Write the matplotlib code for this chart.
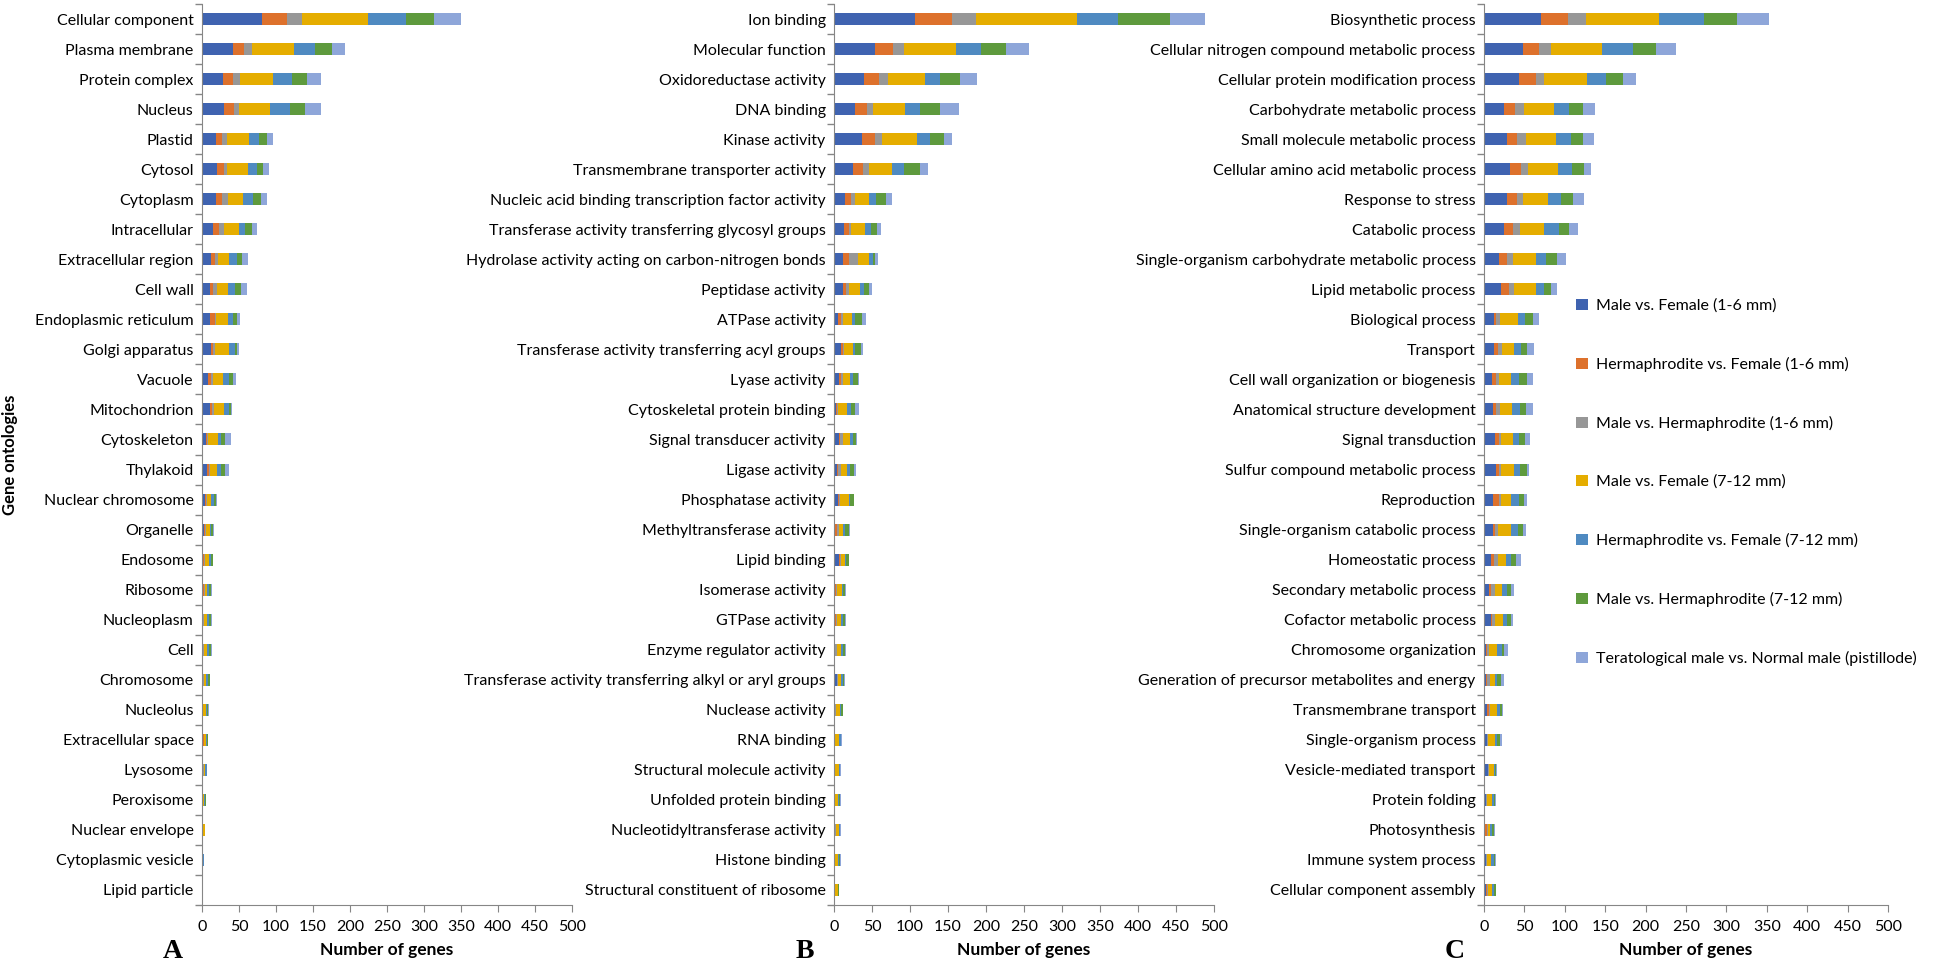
import matplotlib.pyplot as plt
import numpy as np

plt.rcParams['font.family'] = ['Lato', 'DejaVu Sans']

series = ["Male vs. Female (1-6 mm)", "Hermaphrodite vs. Female (1-6 mm)",
          "Male vs. Hermaphrodite (1-6 mm)", "Male vs. Female (7-12 mm)",
          "Hermaphrodite vs. Female (7-12 mm)", "Male vs. Hermaphrodite (7-12 mm)",
          "Teratological male vs. Normal male (pistillode)"]
colors = ["#3F63B0", "#DD712C", "#979797", "#E5AD00", "#4F8AC1", "#5E9A3D", "#8EA6D9"]

# panel A - cellular component
cats_a = ["Cellular component", "Plasma membrane", "Protein complex", "Nucleus", "Plastid",
          "Cytosol", "Cytoplasm", "Intracellular", "Extracellular region", "Cell wall",
          "Endoplasmic reticulum", "Golgi apparatus", "Vacuole", "Mitochondrion", "Cytoskeleton",
          "Thylakoid", "Nuclear chromosome", "Organelle", "Endosome", "Ribosome",
          "Nucleoplasm", "Cell", "Chromosome", "Nucleolus", "Extracellular space",
          "Lysosome", "Peroxisome", "Nuclear envelope", "Cytoplasmic vesicle", "Lipid particle"]
a_mf16 = [80.6, 41.4, 28.8, 29.7, 19.4, 20.3, 18.9, 14.9, 11.7, 10.8, 10.8, 11.7, 8.1, 10.8, 5.4,
          6.3, 3.6, 2.7, 1.8, 1.8, 0.9, 0.9, 0.9, 0.5, 1.8, 0.5, 0.5, 0.3, 0.5, 0.0]
a_hf16 = [33.8, 15.3, 13.1, 13.5, 7.7, 9.0, 8.1, 8.1, 5.9, 4.5, 6.3, 3.6, 4.5, 2.7, 1.8,
          2.7, 1.4, 1.4, 1.4, 0.9, 0.9, 0.9, 0.5, 0.5, 0.5, 1.4, 0.5, 0.2, 0.3, 0.0]
a_mh16 = [21.2, 11.3, 9.5, 7.2, 7.2, 4.0, 8.1, 6.3, 4.0, 5.4, 2.3, 1.8, 2.7, 2.3, 0.5,
          1.8, 1.4, 1.4, 0.9, 0.9, 0.9, 0.9, 0.9, 0.5, 0.3, 0.5, 0.5, 0.2, 0.3, 0.0]
a_mf712 = [89.2, 56.8, 44.6, 41.4, 29.7, 28.4, 20.7, 20.7, 15.3, 14.4, 15.8, 18.9, 13.5, 14.0, 13.5,
           9.0, 5.9, 5.4, 5.9, 2.7, 4.5, 4.5, 3.6, 4.0, 3.2, 2.3, 1.8, 3.0, 0.5, 1.2]
a_hf712 = [50.9, 27.5, 25.7, 27.0, 13.5, 12.2, 13.5, 8.6, 9.9, 9.0, 7.2, 8.1, 7.2, 7.2, 4.0,
           5.4, 4.0, 1.8, 2.3, 2.7, 2.7, 2.3, 2.3, 1.8, 1.2, 1.4, 1.2, 0.4, 0.5, 0.0]
a_mh712 = [37.4, 23.0, 20.7, 20.3, 10.4, 8.1, 10.8, 9.0, 7.7, 8.1, 4.5, 2.7, 6.3, 2.7, 5.4,
           6.3, 2.7, 1.8, 2.3, 2.7, 1.8, 2.3, 2.3, 0.9, 0.5, 0.9, 1.2, 0.2, 0.4, 0.0]
a_tm = [36.9, 18.5, 18.0, 21.2, 8.6, 9.0, 8.1, 7.2, 8.1, 8.6, 5.0, 3.6, 3.6, 0.9, 8.6,
        4.5, 1.4, 1.4, 0.9, 1.8, 1.8, 1.8, 0.8, 1.8, 0.5, 0.2, 0.2, 0.2, 0.2, 0.2]

# panel B - molecular function
cats_b = ["Ion binding", "Molecular function", "Oxidoreductase activity", "DNA binding",
          "Kinase activity", "Transmembrane transporter activity",
          "Nucleic acid binding transcription factor activity",
          "Transferase activity transferring glycosyl groups",
          "Hydrolase activity acting on carbon-nitrogen bonds", "Peptidase activity",
          "ATPase activity", "Transferase activity transferring acyl groups", "Lyase activity",
          "Cytoskeletal protein binding", "Signal transducer activity", "Ligase activity",
          "Phosphatase activity", "Methyltransferase activity", "Lipid binding",
          "Isomerase activity", "GTPase activity", "Enzyme regulator activity",
          "Transferase activity transferring alkyl or aryl groups", "Nuclease activity",
          "RNA binding", "Structural molecule activity", "Unfolded protein binding",
          "Nucleotidyltransferase activity", "Histone binding", "Structural constituent of ribosome"]
b_mf16 = [106.7, 54.2, 39.8, 28.0, 36.7, 24.5, 14.4, 13.6, 11.4, 12.2, 5.2, 8.7, 6.1, 2.6, 6.1,
          4.4, 5.2, 1.7, 6.1, 1.7, 1.7, 0.9, 3.5, 0.9, 0.9, 0.9, 0.4, 1.3, 0.4, 0.9]
b_hf16 = [49.0, 23.6, 18.8, 15.7, 17.5, 13.1, 8.3, 5.7, 7.9, 3.5, 4.4, 2.6, 2.6, 1.3, 1.7,
          0.9, 1.7, 1.7, 1.7, 0.9, 0.9, 0.9, 0.9, 0.9, 0.4, 0.4, 0.4, 0.4, 0.4, 0.2]
b_mh16 = [31.0, 14.9, 13.1, 7.4, 9.6, 8.3, 4.8, 3.1, 11.8, 3.5, 2.2, 2.2, 2.6, 1.3, 3.5,
          4.4, 0.9, 2.6, 0.9, 0.9, 1.7, 2.6, 0.9, 0.9, 0.4, 0.4, 0.4, 0.9, 0.4, 0.2]
b_mf712 = [133.0, 67.8, 48.6, 42.4, 45.9, 30.6, 18.8, 17.9, 15.3, 14.9, 12.2, 10.9, 9.6, 12.2, 9.6,
           7.9, 12.2, 6.1, 5.2, 7.0, 5.2, 4.4, 3.5, 5.2, 5.2, 4.4, 3.9, 3.5, 4.4, 3.5]
b_hf712 = [53.4, 32.4, 19.2, 20.1, 16.6, 16.2, 9.6, 8.3, 4.4, 5.2, 3.9, 2.6, 3.5, 5.2, 3.5,
           3.5, 1.7, 2.6, 1.7, 1.7, 1.7, 2.6, 2.6, 1.7, 1.7, 1.3, 1.3, 1.3, 0.9, 0.9]
b_mh712 = [69.6, 33.2, 26.7, 26.2, 17.9, 20.1, 12.7, 8.3, 3.5, 7.0, 8.7, 7.9, 7.0, 5.2, 4.4,
           5.2, 4.4, 4.4, 3.5, 2.6, 3.5, 3.5, 1.7, 1.7, 0.9, 0.9, 1.7, 0.9, 1.3, 0.4]
b_tm = [45.9, 30.2, 21.9, 24.5, 10.5, 11.4, 8.3, 5.2, 3.9, 3.5, 5.2, 3.5, 1.7, 5.2, 1.7,
        2.2, 0.4, 2.2, 0.9, 0.9, 0.9, 0.9, 0.9, 0.9, 0.9, 0.9, 0.9, 0.9, 1.3, 0.5]

# panel C - biological process
cats_c = ["Biosynthetic process", "Cellular nitrogen compound metabolic process",
          "Cellular protein modification process", "Carbohydrate metabolic process",
          "Small molecule metabolic process", "Cellular amino acid metabolic process",
          "Response to stress", "Catabolic process",
          "Single-organism carbohydrate metabolic process", "Lipid metabolic process",
          "Biological process", "Transport", "Cell wall organization or biogenesis",
          "Anatomical structure development", "Signal transduction",
          "Sulfur compound metabolic process", "Reproduction", "Single-organism catabolic process",
          "Homeostatic process", "Secondary metabolic process", "Cofactor metabolic process",
          "Chromosome organization", "Generation of precursor metabolites and energy",
          "Transmembrane transport", "Single-organism process", "Vesicle-mediated transport",
          "Protein folding", "Photosynthesis", "Immune system process", "Cellular component assembly"]
c_mf16 = [70.5, 47.7, 43.2, 25.3, 29.0, 32.0, 28.2, 25.3, 19.1, 20.7, 12.0, 12.4, 10.0, 11.6, 13.3,
          15.4, 11.6, 10.8, 8.3, 6.6, 8.3, 2.5, 2.5, 4.1, 3.3, 4.6, 2.1, 1.7, 2.1, 2.9]
c_hf16 = [33.2, 20.7, 20.7, 13.3, 12.4, 13.3, 12.4, 11.2, 9.1, 10.4, 2.9, 5.0, 5.4, 3.7, 5.8,
          3.3, 6.6, 3.3, 4.1, 2.5, 1.7, 1.7, 1.7, 1.7, 0.8, 0.8, 0.8, 2.1, 0.8, 0.8]
c_mh16 = [22.4, 14.1, 10.4, 10.4, 10.4, 9.1, 7.1, 7.9, 8.3, 6.2, 5.0, 4.6, 3.7, 4.6, 2.5,
          2.9, 2.5, 3.3, 5.0, 4.1, 3.3, 1.7, 3.3, 1.7, 0.8, 0.8, 0.8, 1.2, 0.8, 0.8]
c_mf712 = [90.9, 63.5, 52.7, 38.2, 37.8, 37.3, 31.1, 29.9, 27.4, 26.6, 22.4, 15.4, 14.9, 14.9, 14.9,
           15.8, 13.3, 16.6, 10.0, 9.1, 10.8, 10.8, 5.8, 9.1, 9.1, 6.2, 6.6, 2.9, 5.4, 5.8]
c_hf712 = [55.2, 39.0, 23.7, 17.8, 18.3, 17.8, 17.0, 18.7, 12.4, 10.4, 8.3, 8.3, 9.1, 10.0, 6.6,
           7.5, 9.1, 8.3, 6.6, 5.8, 4.1, 5.0, 2.5, 3.3, 2.5, 1.2, 2.1, 1.7, 2.9, 1.7]
c_mh712 = [41.1, 28.2, 21.6, 17.4, 14.1, 14.1, 14.1, 12.0, 14.1, 8.7, 10.0, 7.9, 9.5, 7.1, 7.5,
           8.3, 6.6, 5.8, 5.0, 5.0, 5.0, 3.3, 5.8, 2.5, 3.3, 1.2, 1.2, 3.3, 1.2, 2.5]
c_tm = [39.4, 24.9, 15.4, 14.5, 14.1, 9.1, 14.1, 11.6, 11.6, 7.9, 7.9, 8.7, 7.5, 8.3, 5.8,
        2.5, 4.1, 3.7, 6.2, 4.1, 2.9, 5.0, 3.3, 1.7, 2.5, 0.8, 0.8, 1.2, 1.2, 0.4]

panels = [
    (cats_a, [a_mf16, a_hf16, a_mh16, a_mf712, a_hf712, a_mh712, a_tm], "A", 202, 572),
    (cats_b, [b_mf16, b_hf16, b_mh16, b_mf712, b_hf712, b_mh712, b_tm], "B", 834, 1214),
    (cats_c, [c_mf16, c_hf16, c_mh16, c_mf712, c_hf712, c_mh712, c_tm], "C", 1484, 1888),
]

W, H = 1946, 969
fig = plt.figure(figsize=(W / 100, H / 100), dpi=100)
ax_top, ax_bot = 4, 905
axis_col = "#868686"

for cats, vals, letter, x0, x1 in panels:
    ax = fig.add_axes([x0 / W, 1 - ax_bot / H, (x1 - x0) / W, (ax_bot - ax_top) / H])
    y = np.arange(len(cats))
    left = np.zeros(len(cats))
    for v, c, name in zip(vals, colors, series):
        ax.barh(y, v, left=left, height=0.4, color=c, label=name)
        left += np.array(v)
    ax.set_xlim(0, 500)
    ax.set_ylim(len(cats) - 0.5, -0.5)
    ax.set_xticks(np.arange(0, 501, 50))
    ax.set_yticks(np.arange(-0.5, len(cats), 1))
    ax.set_yticklabels([])
    ax.set_yticks(y, minor=True)
    ax.set_yticklabels(cats, minor=True, fontsize=11.5)
    ax.tick_params(axis='y', which='minor', length=0, pad=6)
    ax.tick_params(axis='y', which='major', length=5, color=axis_col, width=1)
    ax.tick_params(axis='x', length=5, color=axis_col, labelsize=11.5, pad=6)
    for s in ['top', 'right']:
        ax.spines[s].set_visible(False)
    for s in ['left', 'bottom']:
        ax.spines[s].set_color(axis_col)
    fig.text((x0 + x1) / 2 / W, 1 - 950 / H, "Number of genes", ha='center', va='center',
             fontsize=12.5, fontweight='bold')
    fig.text((x0 - 29) / W, 1 - 951 / H, letter, ha='center', va='center',
             fontsize=20, fontweight='bold', family='Liberation Serif')

fig.text(10 / W, 1 - 455 / H, "Gene ontologies", rotation=90, ha='center', va='center',
         fontsize=12, fontweight='bold')

handles, labels = ax.get_legend_handles_labels()
fig.legend(handles, labels, loc='upper left', bbox_to_anchor=(1570 / W, 1 - 292 / H),
           frameon=False, fontsize=11.5, handlelength=0.7, handleheight=0.7,
           handletextpad=0.5, labelspacing=2.75, borderaxespad=0)

fig.savefig("out.png", dpi=100)
